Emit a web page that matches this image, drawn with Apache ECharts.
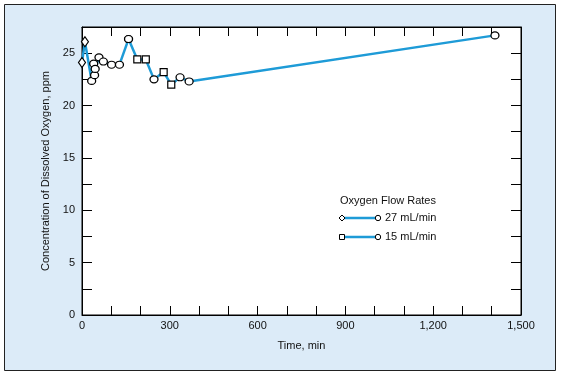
<!DOCTYPE html>
<html>
<head>
<meta charset="utf-8">
<script src="https://cdn.jsdelivr.net/npm/echarts@6/dist/echarts.min.js"></script>
<style>
html, body { margin: 0; padding: 0; background: #fff; }
#container1 { width: 561px; height: 376px; }
</style>
</head>
<body>
<div id="container1"></div>
<script>
// data
var time27 = [0, 10, 33, 40, 43, 45, 58, 73, 101, 128, 159];
var conc27 = [24.1, 26.1, 22.35, 24.0, 22.9, 23.5, 24.6, 24.2, 23.9, 23.9, 26.35];
var time15 = [159, 189, 218, 246, 279, 305, 335, 366, 1411];
var conc15 = [26.35, 24.4, 24.4, 22.5, 23.2, 22.0, 22.7, 22.3, 26.7];

// marker shapes, per point
var marks27 = ['diamond', 'diamond', 'circle', 'circle', 'circle', 'circle', 'circle', 'circle', 'circle', 'circle', 'circle'];
var marks15 = ['circle', 'rect', 'rect', 'circle', 'rect', 'rect', 'circle', 'circle', 'circle'];

var legendNames = ['27 mL/min', '15 mL/min'];

function pairs(xs, ys) {
    return xs.map(function (x, i) { return [x, ys[i]]; });
}

var dom = document.getElementById("container1");
var myChart = echarts.init(dom);
var blue = '#1e9bd7';
var font = 'Liberation Sans, Arial, sans-serif';

function markerSize(shape) {
    if (shape === 'diamond') return [7, 10];
    if (shape === 'rect') return [7, 7];
    return [8, 7];
}

function lineSeries(name, xs, ys, marks) {
    return {
        name: name,
        type: 'line',
        data: pairs(xs, ys),
        symbol: function (v, p) { return marks[p.dataIndex]; },
        symbolSize: function (v, p) { return markerSize(marks[p.dataIndex]); },
        showAllSymbol: true,
        lineStyle: { color: blue, width: 2.5 },
        itemStyle: { color: '#fff', borderColor: '#000', borderWidth: 1.2 },
        z: 3
    };
}

var axisCommon = {
    type: 'value',
    axisLine: { show: true, onZero: false, lineStyle: { color: '#000', width: 1 } },
    splitLine: { show: false }
};

var option = {
    backgroundColor: '#fff',
    animation: false,
    grid: {
        left: 82, right: 40, top: 27, bottom: 61,
        show: true, backgroundColor: '#fff', borderColor: '#000', borderWidth: 1
    },
    xAxis: [
        Object.assign({}, axisCommon, {
            position: 'bottom',
            min: 0, max: 1500, interval: 100,
            axisTick: { inside: true, length: 9, lineStyle: { color: '#000' } },
            axisLabel: {
                color: '#111', fontFamily: font, fontSize: 11, margin: 5,
                formatter: function (v) { return v % 300 === 0 ? v.toLocaleString('en-US') : ''; }
            },
            name: 'Time, min', nameLocation: 'middle', nameGap: 25,
            nameTextStyle: { color: '#111', fontFamily: font, fontSize: 11 }
        }),
        Object.assign({}, axisCommon, {
            position: 'top',
            min: 0, max: 1500, interval: 100,
            axisTick: { inside: true, length: 9, lineStyle: { color: '#000' } },
            axisLabel: { show: false }
        })
    ],
    yAxis: [
        Object.assign({}, axisCommon, {
            position: 'left',
            min: 0, max: 27.5, interval: 2.5,
            axisTick: { inside: true, length: 10, lineStyle: { color: '#000' } },
            axisLabel: {
                color: '#111', fontFamily: font, fontSize: 11, margin: 7,
                formatter: function (v) { return v % 5 === 0 ? String(v) : ''; }
            },
            name: 'Concentration of Dissolved Oxygen, ppm', nameLocation: 'middle', nameGap: 31,
            nameTextStyle: { color: '#111', fontFamily: font, fontSize: 11 }
        }),
        Object.assign({}, axisCommon, {
            position: 'right',
            min: 0, max: 27.5, interval: 2.5,
            axisTick: { inside: true, length: 10, lineStyle: { color: '#000' } },
            axisLabel: { show: false }
        })
    ],
    graphic: [
        {
            type: 'rect', z: -10, silent: true,
            shape: { x: 4.5, y: 4.5, width: 551, height: 366 },
            style: { fill: '#dcebf8', stroke: '#222', lineWidth: 1 }
        },
        {
            type: 'text', left: 340, top: 195, z: 10,
            style: { text: 'Oxygen Flow Rates', fill: '#111', font: '11px ' + font }
        },
        // legend row 1
        { type: 'line', z: 10, shape: { x1: 342, y1: 218, x2: 377, y2: 218 }, style: { stroke: blue, lineWidth: 2.5 } },
        { type: 'polygon', z: 11, shape: { points: [[342, 215], [345, 218], [342, 221], [339, 218]] }, style: { fill: '#fff', stroke: '#000', lineWidth: 1 } },
        { type: 'circle', z: 11, shape: { cx: 378, cy: 218, r: 2.7 }, style: { fill: '#fff', stroke: '#000', lineWidth: 1 } },
        { type: 'text', left: 385, top: 212, z: 10, style: { text: legendNames[0], fill: '#111', font: '11px ' + font } },
        // legend row 2
        { type: 'line', z: 10, shape: { x1: 342, y1: 237, x2: 377, y2: 237 }, style: { stroke: blue, lineWidth: 2.5 } },
        { type: 'rect', z: 11, shape: { x: 339.5, y: 234.5, width: 5, height: 5 }, style: { fill: '#fff', stroke: '#000', lineWidth: 1 } },
        { type: 'circle', z: 11, shape: { cx: 378, cy: 237, r: 2.7 }, style: { fill: '#fff', stroke: '#000', lineWidth: 1 } },
        { type: 'text', left: 385, top: 231, z: 10, style: { text: legendNames[1], fill: '#111', font: '11px ' + font } }
    ],
    series: [
        lineSeries(legendNames[0], time27, conc27, marks27),
        lineSeries(legendNames[1], time15, conc15, marks15)
    ]
};

if (option && typeof option === "object") {
    myChart.setOption(option, true);
}
</script>
</body>
</html>
